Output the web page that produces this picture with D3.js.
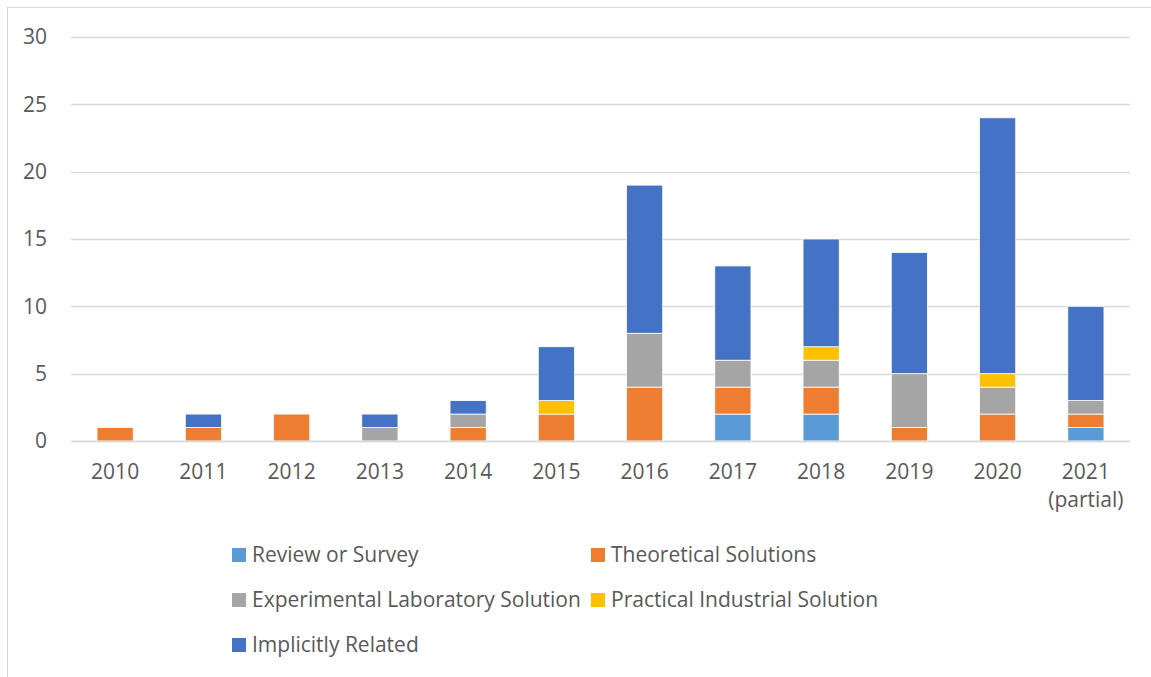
<!DOCTYPE html>
<html>
<head>
<meta charset="utf-8">
<script src="https://cdn.jsdelivr.net/npm/d3@7"></script>
<style>
  body { margin: 0; background: #fff; }
  text { font-family: "Open Sans", sans-serif; fill: #595959; }
</style>
</head>
<body>
<div id="container"></div>
<script>
const years = ["2010", "2011", "2012", "2013", "2014", "2015", "2016", "2017", "2018", "2019", "2020", "2021\n(partial)"];
const seriesNames = ["Review or Survey", "Theoretical Solutions", "Experimental Laboratory Solution", "Practical Industrial Solution", "Implicitly Related"];
const colors = ["#5B9BD5", "#ED7D31", "#A5A5A5", "#FFC000", "#4472C4"];

const review       = [0, 0, 0, 0, 0, 0, 0, 2, 2, 0, 0, 1];
const theoretical  = [1, 1, 2, 0, 1, 2, 4, 2, 2, 1, 2, 1];
const experimental = [0, 0, 0, 1, 1, 0, 4, 2, 2, 4, 2, 1];
const practical    = [0, 0, 0, 0, 0, 1, 0, 0, 1, 0, 1, 0];
const implicit     = [0, 1, 0, 1, 1, 4, 11, 7, 8, 9, 19, 7];
const yTicks = [0, 5, 10, 15, 20, 25, 30];

const w = 1151, h = 677;
const margin = { top: 37, right: 21, bottom: 236, left: 71 };
const width = w - margin.left - margin.right;
const height = h - margin.top - margin.bottom;

const table = years.map((y, i) => ({
  year: y,
  [seriesNames[0]]: review[i],
  [seriesNames[1]]: theoretical[i],
  [seriesNames[2]]: experimental[i],
  [seriesNames[3]]: practical[i],
  [seriesNames[4]]: implicit[i]
}));

const stacked = d3.stack().keys(seriesNames)(table);

const svg = d3.select('#container')
  .append('svg')
  .attr('width', w)
  .attr('height', h);

// chart area border
svg.append('rect')
  .attr('x', 7.5).attr('y', 7.5)
  .attr('width', w).attr('height', h)
  .attr('fill', 'none')
  .attr('stroke', '#d9d9d9')
  .attr('stroke-width', 1);

const g = svg.append('g')
  .attr('transform', `translate(${margin.left}, ${margin.top})`);

const x = d3.scaleBand()
  .domain(years)
  .range([0, width])
  .paddingInner(0.59)
  .paddingOuter(0.295);

const y = d3.scaleLinear()
  .domain([0, 30])
  .range([height, 0]);

// gridlines
g.append('g')
  .selectAll('line')
  .data(yTicks)
  .enter().append('line')
  .attr('x1', 0).attr('x2', width)
  .attr('y1', d => Math.round(y(d)) + 0.5)
  .attr('y2', d => Math.round(y(d)) + 0.5)
  .attr('stroke', '#d9d9d9')
  .attr('stroke-width', 1.3);

// y axis
const yAxis = g.append('g')
  .call(d3.axisLeft(y).tickValues(yTicks).tickSize(0).tickPadding(24));
yAxis.select('.domain').remove();
yAxis.selectAll('text')
  .style('font-size', '21px')
  .style('fill', '#595959');

// bars
g.append('g')
  .selectAll('g')
  .data(stacked)
  .enter().append('g')
  .attr('fill', (d, i) => colors[i])
  .selectAll('rect')
  .data(d => d.filter(s => s[1] - s[0] > 0))
  .enter().append('rect')
  .attr('x', d => x(d.data.year))
  .attr('width', x.bandwidth())
  .attr('y', d => y(d[1]))
  .attr('height', d => y(d[0]) - y(d[1]))
  .attr('stroke', '#fff')
  .attr('stroke-width', 0.8);

// x axis line on top
g.append('line')
  .attr('x1', 0).attr('x2', width)
  .attr('y1', height + 0.5).attr('y2', height + 0.5)
  .attr('stroke', '#d9d9d9')
  .attr('stroke-width', 1.3);

// x labels
const xl = g.append('g')
  .selectAll('text')
  .data(years)
  .enter().append('text')
  .attr('x', d => x(d) + x.bandwidth() / 2)
  .attr('y', height + 38)
  .attr('text-anchor', 'middle')
  .style('font-size', '21px');
xl.each(function(d) {
  const parts = d.split('\n');
  parts.forEach((p, i) => {
    d3.select(this).append('tspan')
      .attr('x', x(d) + x.bandwidth() / 2)
      .attr('dy', i === 0 ? 0 : 28)
      .text(p);
  });
});

// legend
const legendPos = [[232, 555], [591, 555], [232, 600], [591, 600], [232, 645]];
const legend = svg.append('g')
  .selectAll('g')
  .data(seriesNames)
  .enter().append('g')
  .attr('transform', (d, i) => `translate(${legendPos[i][0]}, ${legendPos[i][1]})`);
legend.append('rect')
  .attr('x', 0).attr('y', -7)
  .attr('width', 14).attr('height', 14)
  .attr('fill', (d, i) => colors[i]);
legend.append('text')
  .attr('x', 20)
  .attr('y', 7)
  .style('font-size', '21px')
  .text(d => d);
</script>
</body>
</html>
